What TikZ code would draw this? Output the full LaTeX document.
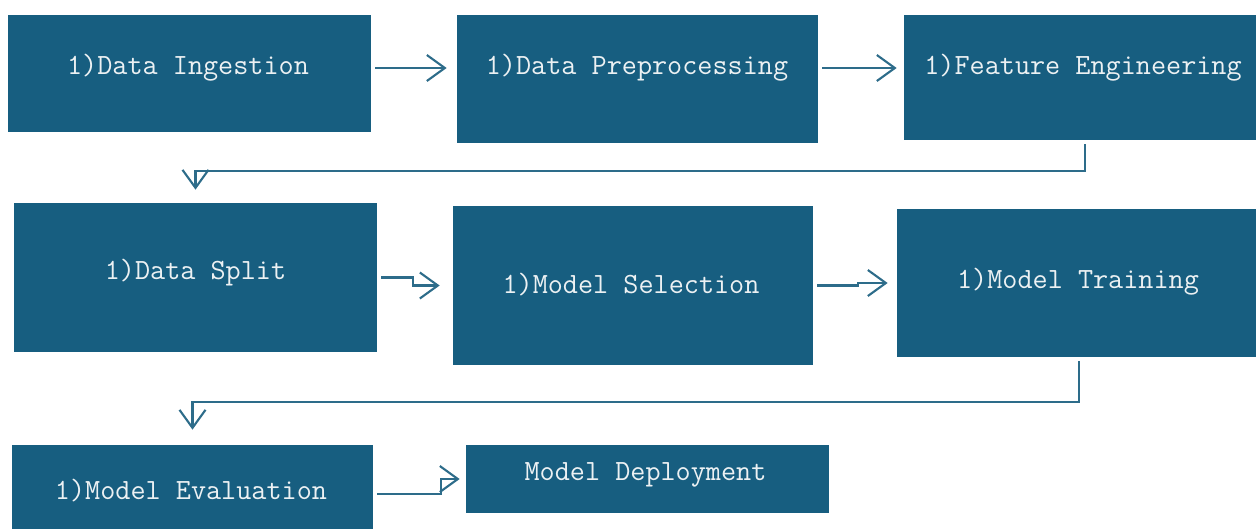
\documentclass[tikz,border=0pt]{standalone}
\usepackage{fontspec}
\usetikzlibrary{arrows.meta}
\definecolor{BoxBlue}{RGB}{23, 94, 128}
\definecolor{LineBlue}{RGB}{45, 108, 138}
\definecolor{TextWhite}{RGB}{236, 241, 243}

\begin{document}
\begin{tikzpicture}[
        font=\ttfamily\fontsize{16.7}{19}\selectfont,
        box/.style = {rectangle, inner sep=0pt, fill=BoxBlue},
        txt/.style = {text=TextWhite, inner sep=0pt},
        arr/.style = {draw=LineBlue, line width=1.2pt,
            -{Straight Barb[length=0.36cm, width=0.52cm, line width=1.2pt]},
            shorten <=0.08cm}
    ]
    \useasboundingbox (0,0) rectangle (25.12,-10.58);

    \node (ingest) at (3.79,-1.47)  [box, minimum width=7.26cm, minimum height=2.34cm] {};
    \node (prep)   at (12.75,-1.58) [box, minimum width=7.22cm, minimum height=2.56cm] {};
    \node (feat)   at (21.6,-1.55)  [box, minimum width=7.04cm, minimum height=2.5cm] {};
    \node (split)  at (3.91,-5.55)  [box, minimum width=7.26cm, minimum height=2.98cm] {};
    \node (sel)    at (12.66,-5.71) [box, minimum width=7.2cm, minimum height=3.18cm] {};
    \node (train)  at (21.53,-5.66) [box, minimum width=7.18cm, minimum height=2.96cm] {};
    \node (eval)   at (3.85,-9.74)  [box, minimum width=7.22cm, minimum height=1.68cm] {};
    \node (deploy) at (12.95,-9.58) [box, minimum width=7.26cm, minimum height=1.36cm] {};

    \node (ingestT) at (3.76,-1.36)  [txt] {1)Data Ingestion};
    \node (prepT)   at (12.74,-1.36) [txt] {1)Data Preprocessing};
    \node (featT)   at (21.66,-1.36) [txt] {1)Feature Engineering};
    \node (splitT)  at (3.91,-5.46)  [txt] {1)Data Split};
    \node (selT)    at (12.62,-5.70) [txt] {1)Model Selection};
    \node (trainT)  at (21.56,-5.64) [txt] {1)Model Training};
    \node (evalT)   at (3.82,-9.82)  [txt] {1)Model Evaluation};
    \node (deployT) at (12.91,-9.50) [txt] {Model Deployment};

    \draw[arr, shorten >=0.2cm] (ingest.east |- ingestT) -- (prep.west |- ingestT);
    \draw[arr, shorten >=0.14cm] (prep.east |- prepT) -- (feat.west |- prepT);
    \draw[arr, shorten >=0.26cm] ([xshift=0.1cm]feat.south) -- ++(0,-0.62) -| (split.north);
    \draw[arr, shorten >=0.26cm] (split.east) -- ++(0.72,0) |- (sel.west);
    \draw[arr, shorten >=0.18cm] (sel.east) -- ++(0.9,0) |- (train.west);
    \draw[arr, shorten >=0.3cm] ([xshift=0.05cm]train.south) -- ++(0,-0.9) -| (eval.north);
    \draw[arr, shorten >=0.12cm] ([yshift=-0.14cm]eval.east) -- ++(1.36,0) |- (deploy.west);
\end{tikzpicture}
\end{document}
